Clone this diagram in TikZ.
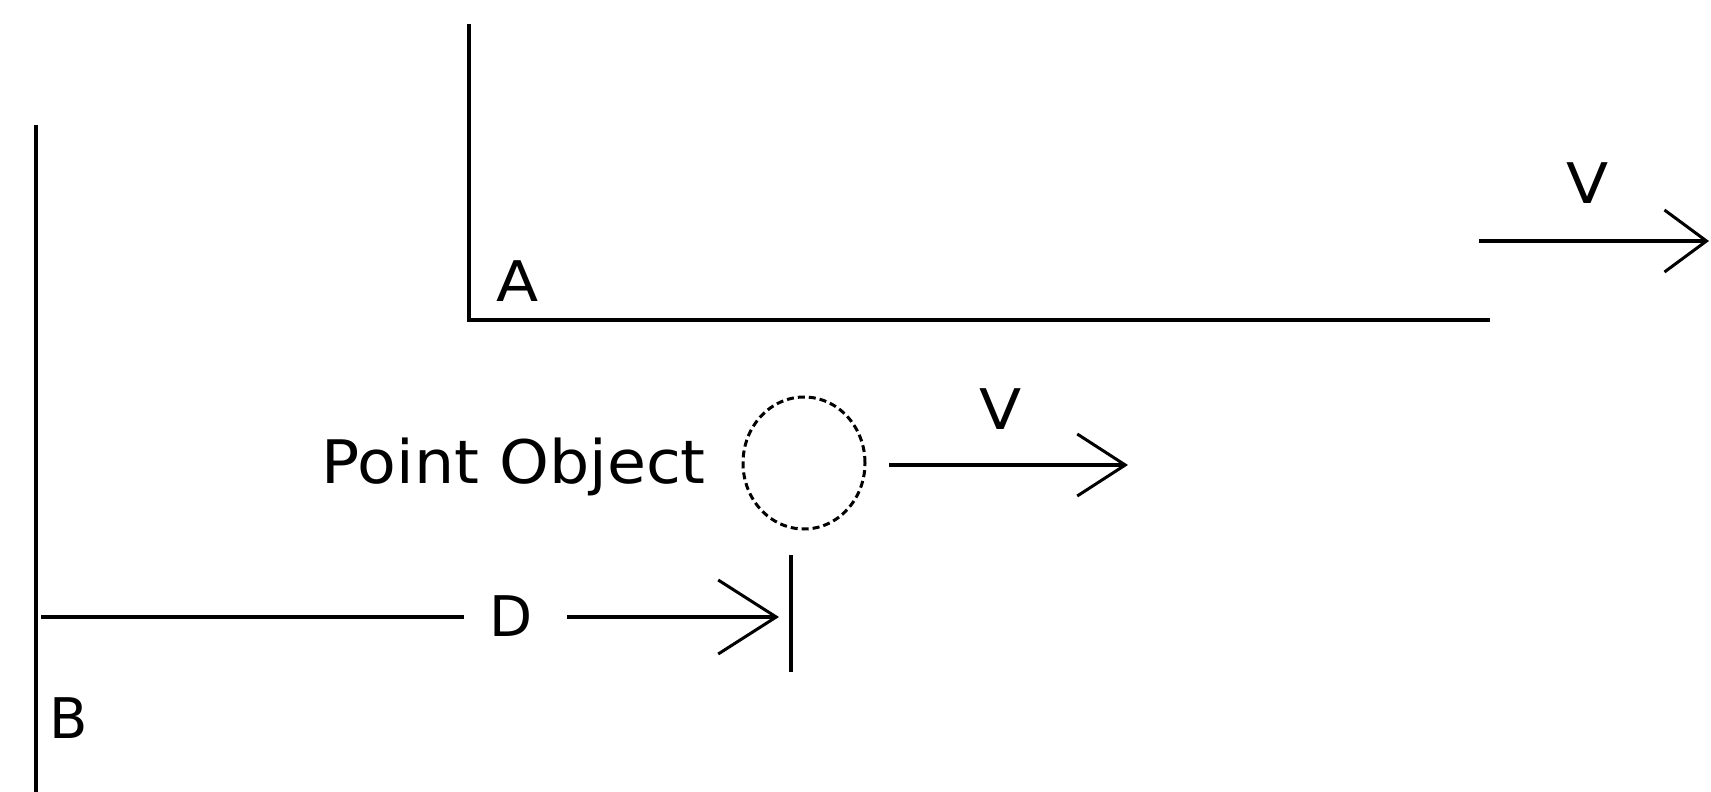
\documentclass[tikz,border=0pt]{standalone}
\usepackage{fontspec}
\usepackage{graphicx}
\setmainfont{DejaVu Sans}
\usetikzlibrary{arrows.meta,shapes.geometric}
\begin{document}
\begin{tikzpicture}[x=1pt,y=-1pt,
  wall/.style={line width=4.5pt},
  shaft/.style={line width=4pt},
  vec/.style={shaft,-{Straight Barb[length=48pt,width=62pt,line width=3pt]}},
  tvec/.style={shaft,-{Straight Barb[length=42pt,width=62pt,line width=3pt]}},
  dvec/.style={shaft,-{Straight Barb[length=58pt,width=74pt,line width=3pt]}},
  lbl/.style={font=\fontsize{56}{56}\selectfont,inner sep=0pt},
  objlbl/.style={font=\fontsize{60}{60}\selectfont,inner sep=0pt}]
\useasboundingbox (0,0) rectangle (1711,792);
% frame B
\coordinate (Btop) at (36,125);
\coordinate (Bbot) at (36,792);
\draw[wall] (Btop) -- (Bbot);
\node[lbl] (B) at (69,718) {B};
% frame A
\coordinate (Atop) at (469,24);
\coordinate (Acorner) at (469,320);
\coordinate (Aend) at (1490,320);
\draw[wall] (Atop) -- (Acorner) -- (Aend);
\node[lbl] (A) at (518,281) {\scalebox{1.1}[1]{A}};
% velocity of A
\coordinate (vAs) at (1479,241);
\coordinate (vAe) at (1709,241);
\draw[tvec] (vAs) -- (vAe);
\node[lbl] (VA) at (1588,183) {\scalebox{1.1}[1]{V}};
% point object
\node[objlbl,anchor=base east] (PO) at (706,483) {\scalebox{1.057}[1]{Point Object}};
\node[draw,ellipse,dash pattern=on 7pt off 4pt,line width=3pt,minimum width=122pt,minimum height=132pt,inner sep=0pt] (obj) at (804,463) {};
\coordinate (vOs) at (889,465);
\coordinate (vOe) at (1128,465);
\draw[vec] (vOs) -- (vOe);
\node[lbl] (VO) at (1001,409) {\scalebox{1.1}[1]{V}};
% distance D
\coordinate (Ds) at (41,617);
\coordinate (Dl) at (464,617);
\node[lbl] (D) at (511,616) {D};
\coordinate (Dr) at (567,617);
\coordinate (De) at (779,617);
\draw[shaft] (Ds) -- (Dl);
\draw[dvec] (Dr) -- (De);
\coordinate (tk1) at (791,555);
\coordinate (tk2) at (791,672);
\draw[wall] (tk1) -- (tk2);
\end{tikzpicture}
\end{document}
